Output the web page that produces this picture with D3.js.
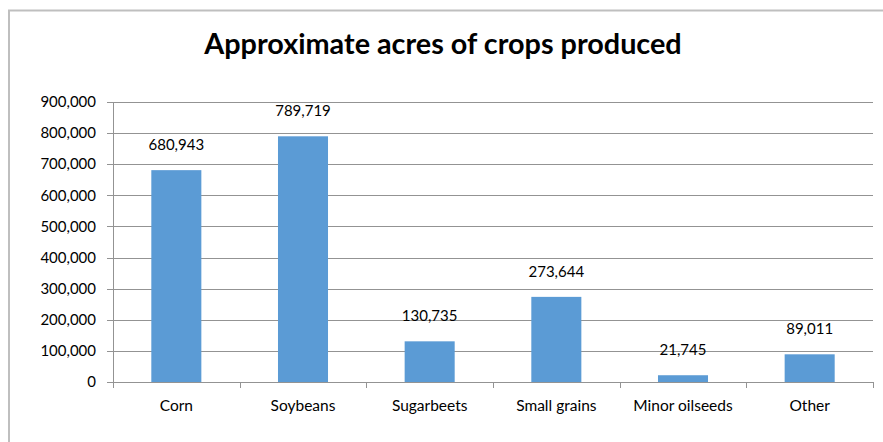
<!DOCTYPE html>
<html>
<head>
<meta charset="utf-8">
<script src="https://cdn.jsdelivr.net/npm/d3@7"></script>
<style>
  body { margin: 0; background: #fff; }
  text { font-family: Lato, "Open Sans", sans-serif; fill: #000; }
</style>
</head>
<body>
<svg id="chart" width="883" height="442"></svg>
<script>
const categories = ['Corn', 'Soybeans', 'Sugarbeets', 'Small grains', 'Minor oilseeds', 'Other']
const acres = [680943, 789719, 130735, 273644, 21745, 89011]
const yTicks = [0, 100000, 200000, 300000, 400000, 500000, 600000, 700000, 800000, 900000]

const width = 883
const height = 442
const margin = { top: 102, right: 10, bottom: 60, left: 113 }
const plotW = width - margin.left - margin.right
const plotH = height - margin.top - margin.bottom

const svg = d3.select('#chart')

// outer chart border (right and bottom edges fall outside the picture)
svg.append('rect')
  .attr('x', 9)
  .attr('y', 10.5)
  .attr('width', 900)
  .attr('height', 500)
  .attr('fill', 'none')
  .attr('stroke', '#bfbfbf')
  .attr('stroke-width', 2)

svg.append('text')
  .attr('x', 443)
  .attr('y', 54)
  .attr('text-anchor', 'middle')
  .style('font-weight', 'bold')
  .style('font-size', '28.8px')
  .text('Approximate acres of crops produced')

const g = svg.append('g')
  .attr('transform', `translate(${margin.left}, ${margin.top})`)

const x = d3.scaleBand()
  .domain(categories)
  .range([0, plotW])
  .paddingInner(0.605)
  .paddingOuter(0.3025)

const y = d3.scaleLinear()
  .domain([0, 900000])
  .range([plotH, 0])

const fmt = d3.format(',')

// gridlines
g.append('g')
  .selectAll('line')
  .data(yTicks)
  .enter().append('line')
  .attr('x1', -6)
  .attr('x2', plotW)
  .attr('y1', d => Math.round(y(d)) + 0.5)
  .attr('y2', d => Math.round(y(d)) + 0.5)
  .attr('stroke', '#939393')
  .attr('stroke-width', 1)

// y axis line
g.append('line')
  .attr('x1', 0.5).attr('x2', 0.5)
  .attr('y1', 0).attr('y2', plotH)
  .attr('stroke', '#939393')

g.append('g')
  .selectAll('text')
  .data(yTicks)
  .enter().append('text')
  .attr('x', -17)
  .attr('y', d => y(d))
  .attr('dy', '0.35em')
  .attr('text-anchor', 'end')
  .style('font-size', '15px')
  .text(d => fmt(d))

// x axis tick marks at category boundaries
const bounds = categories.map(c => x(c) + x.bandwidth() / 2 - x.step() / 2).concat([plotW])
g.append('g')
  .selectAll('line')
  .data(bounds)
  .enter().append('line')
  .attr('x1', d => Math.round(d) + 0.5)
  .attr('x2', d => Math.round(d) + 0.5)
  .attr('y1', plotH)
  .attr('y2', plotH + 6)
  .attr('stroke', '#939393')

g.append('g')
  .selectAll('text')
  .data(categories)
  .enter().append('text')
  .attr('x', d => x(d) + x.bandwidth() / 2)
  .attr('y', plotH + 29)
  .attr('text-anchor', 'middle')
  .style('font-size', '15.5px')
  .text(d => d)

// bars
g.append('g')
  .selectAll('rect')
  .data(acres)
  .enter().append('rect')
  .attr('x', (d, i) => x(categories[i]))
  .attr('y', d => y(d))
  .attr('width', x.bandwidth())
  .attr('height', d => plotH - y(d))
  .attr('fill', '#5b9bd5')

// value labels
g.append('g')
  .selectAll('text')
  .data(acres)
  .enter().append('text')
  .attr('x', (d, i) => x(categories[i]) + x.bandwidth() / 2)
  .attr('y', d => y(d) - 20)
  .attr('text-anchor', 'middle')
  .style('font-size', '15px')
  .text(d => fmt(d))
</script>
</body>
</html>
